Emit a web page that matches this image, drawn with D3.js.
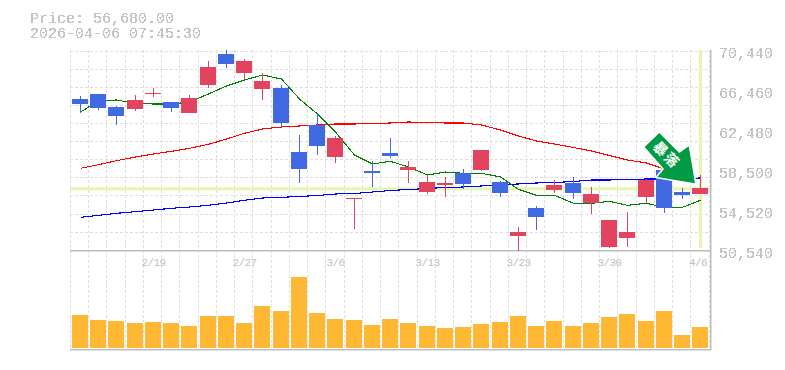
<!DOCTYPE html>
<html><head><meta charset="utf-8">
<style>html,body{margin:0;padding:0;background:#fff;overflow:hidden}svg{display:block}</style>
<script src="https://d3js.org/d3.v7.min.js"></script></head>
<body><svg id="c" width="785" height="370"></svg>
<script>
const dates=["2/13","2/16","2/17","2/18","2/19","2/20","2/24","2/25","2/26","2/27","3/2","3/3","3/4","3/5","3/6","3/9","3/10","3/11","3/12","3/13","3/16","3/17","3/18","3/19","3/23","3/24","3/25","3/26","3/27","3/30","3/31","4/1","4/2","4/3","4/6"];
const opens=[65570,66060,64770,64570,66060,65270,64170,66960,70040,68150,66560,66660,60290,62980,59790,55620,58400,60190,58500,56310,57010,58200,58500,57310,51930,54720,56510,57210,55220,50840,51730,55810,58500,56310,56110];
const highs=[65860,66060,64870,65960,66660,65270,65960,69350,70440,69550,68150,66960,61980,64170,61880,55710,59400,61680,59400,58000,57800,58600,60490,57400,52830,54920,57500,57800,56810,53530,54320,57600,58500,56710,58000];
const lows=[64170,64470,62980,64370,65760,64270,64170,66660,68650,67560,65470,62780,57210,59990,59200,52630,56810,59690,57210,56110,55810,56610,58400,55810,50440,52530,56210,55620,54120,50740,50840,55220,54220,55620,56110];
const closes=[65070,64670,63870,65470,66160,64670,65660,68750,69050,69350,67360,63180,58600,60890,61680,55710,58200,59890,58800,57310,57210,57110,60490,56210,52330,53820,57010,56210,56110,53530,52330,57500,54720,56010,56680];
const volumes=[33,28,27,25,26,25,22,32,32,25,42,37,71,35,29,28,23,29,25,22,20,21,24,26,32,22,27,22,25,31,34,27,37,13,21];
const maShort=[64270,65365,65465,65117,65067,65067,65266,66062,66858,67455,67953,67555,65565,64072,62281,59993,59097,59366,58799,58003,58301,58172,58172,57804,56580,55983,55983,55186,55186,55386,54988,55186,54789,54789,55485];
const maMid=[58669,59027,59425,59794,60092,60361,60659,61057,61585,62153,62580,62779,62878,62978,63077,63077,63127,63177,63276,63226,63177,63177,62978,62480,61883,61386,61087,60739,60390,59943,59495,59197,58600,58202];
const maLong=[53794,53993,54192,54351,54520,54689,54818,54988,55216,55485,55714,55784,55863,55963,56112,56162,56311,56460,56560,56659,56759,56809,56908,57058,57107,57207,57256,57356,57505,57505,57555,57605,57605,57654,57704];
const priceTicks=[70440,66460,62480,58500,54520,50540];
const dateTicks=["2/19","2/27","3/6","3/13","3/23","3/30","4/6"];
const lastPrice=56680;
const titleLines=["Price: 56,680.00","2026-04-06 07:45:30"];
const arrowLabel=["暴","落"];

const svg=d3.select("#c");
const defs=svg.append("defs");
const f=defs.append("filter").attr("id","px").attr("x","-5%").attr("y","-20%").attr("width","110%").attr("height","140%").attr("color-interpolation-filters","sRGB");
f.append("feComponentTransfer").append("feFuncA").attr("type","discrete").attr("tableValues","0 0 1 1 1");

const x=d3.scaleBand().domain(dates).range([70,708.5]);
const step=x.step();
const left=d=>Math.round(x(d)+2);
const y=d3.scaleLinear().domain([50540,70440]).range([250,50]);
const v=d3.scaleLinear().domain([0,98]).range([348,250]);
const cx=i=>left(dates[i])+8.5;

// grid
const grid=svg.append("g").attr("stroke","#dedede").attr("stroke-dasharray","3,2").attr("shape-rendering","crispEdges");
d3.range(0,36).forEach(i=>{const gx=Math.round(70+i*step)+.5;grid.append("line").attr("x1",gx).attr("x2",gx).attr("y1",50).attr("y2",350);});
d3.range(0,11).forEach(i=>{const gy=Math.round(50.6+i*18.1)+.5;grid.append("line").attr("x1",70).attr("x2",708).attr("y1",gy).attr("y2",gy);});

// reference lines
svg.append("rect").attr("x",70).attr("width",640).attr("y",y(lastPrice)-1).attr("height",3).attr("fill","#e6f5b0");
svg.append("rect").attr("x",left(dates[34])+7).attr("width",3).attr("y",50).attr("height",198).attr("fill","#e6f5b0");

// frame
const fr=svg.append("g").attr("fill","#bdbdbd");
fr.append("rect").attr("x",70).attr("y",250).attr("width",641).attr("height",1.5);
fr.append("rect").attr("x",70).attr("y",349).attr("width",641).attr("height",1.5);
fr.append("rect").attr("x",710).attr("y",50).attr("width",1.5).attr("height",300);

// volume
svg.append("g").selectAll("rect").data(dates).join("rect")
 .attr("x",d=>left(d)).attr("width",16).attr("y",(d,i)=>v(volumes[i])).attr("height",(d,i)=>348-v(volumes[i])).attr("fill","#ffb833");

// moving averages
const line=d3.line().x((d,i)=>cx(i)).y(d=>y(d)).curve(d3.curveLinear);
[[maLong,"#0000ff"],[maMid,"#ff0000"],[maShort,"#008000"]].forEach(([s,c])=>{
 svg.append("path").attr("d",line(s)).attr("fill","none").attr("stroke",c).attr("stroke-width",1.1).attr("shape-rendering","crispEdges");
});

// candles
const col=i=>closes[i]>=opens[i]?"#e2435f":"#4169e1";
const g=svg.append("g").attr("shape-rendering","crispEdges");
dates.forEach((d,i)=>{
 const hi=Math.round(y(highs[i])),lo=Math.round(y(lows[i]));
 g.append("rect").attr("x",left(d)+8).attr("width",1).attr("y",hi).attr("height",lo-hi).attr("fill",col(i));
 const t=Math.round(y(Math.max(opens[i],closes[i]))),b=Math.round(y(Math.min(opens[i],closes[i])));
 g.append("rect").attr("x",left(d)).attr("width",16).attr("y",t).attr("height",Math.max(1,b-t)).attr("fill",col(i));
});

// arrow marker
const arrowPts=[[644.7,147],[659.3,133],[679.3,153],[688.7,146.3],[695,183.3],[657.3,177],[664,169]];
svg.append("polygon").attr("points",arrowPts.join(" ")).attr("fill","#009944").attr("stroke","#fff").attr("stroke-width",3).attr("paint-order","stroke");
arrowLabel.forEach((c,i)=>{
 svg.append("text").attr("transform",`translate(${660.5+i*11},${149+i*11}) rotate(45)`).attr("text-anchor","middle").attr("dy","0.36em")
  .attr("font-family","'Noto Sans CJK JP'").attr("font-weight",700).attr("font-size",14).attr("fill","#fff").text(c);
});

// text
const mono="'Liberation Mono',monospace";
const T=svg.append("g").attr("font-family",mono).attr("fill","#c4c4c4").attr("filter","url(#px)");
titleLines.forEach((t,i)=>T.append("text").attr("x",30).attr("y",23+i*15).attr("font-size",15).text(t));
priceTicks.forEach(p=>T.append("text").attr("x",719).attr("y",y(p)+8).attr("font-size",15).text(d3.format(",")(p)));
const X=svg.append("g").attr("font-family",mono).attr("fill","#c0c0c0").attr("font-size",11).attr("letter-spacing",-0.6).attr("text-anchor","middle");
dateTicks.forEach(t=>{const i=dates.indexOf(t);X.append("text").attr("x",Math.min(cx(i),698)).attr("y",266).text(t);});
</script></body></html>
